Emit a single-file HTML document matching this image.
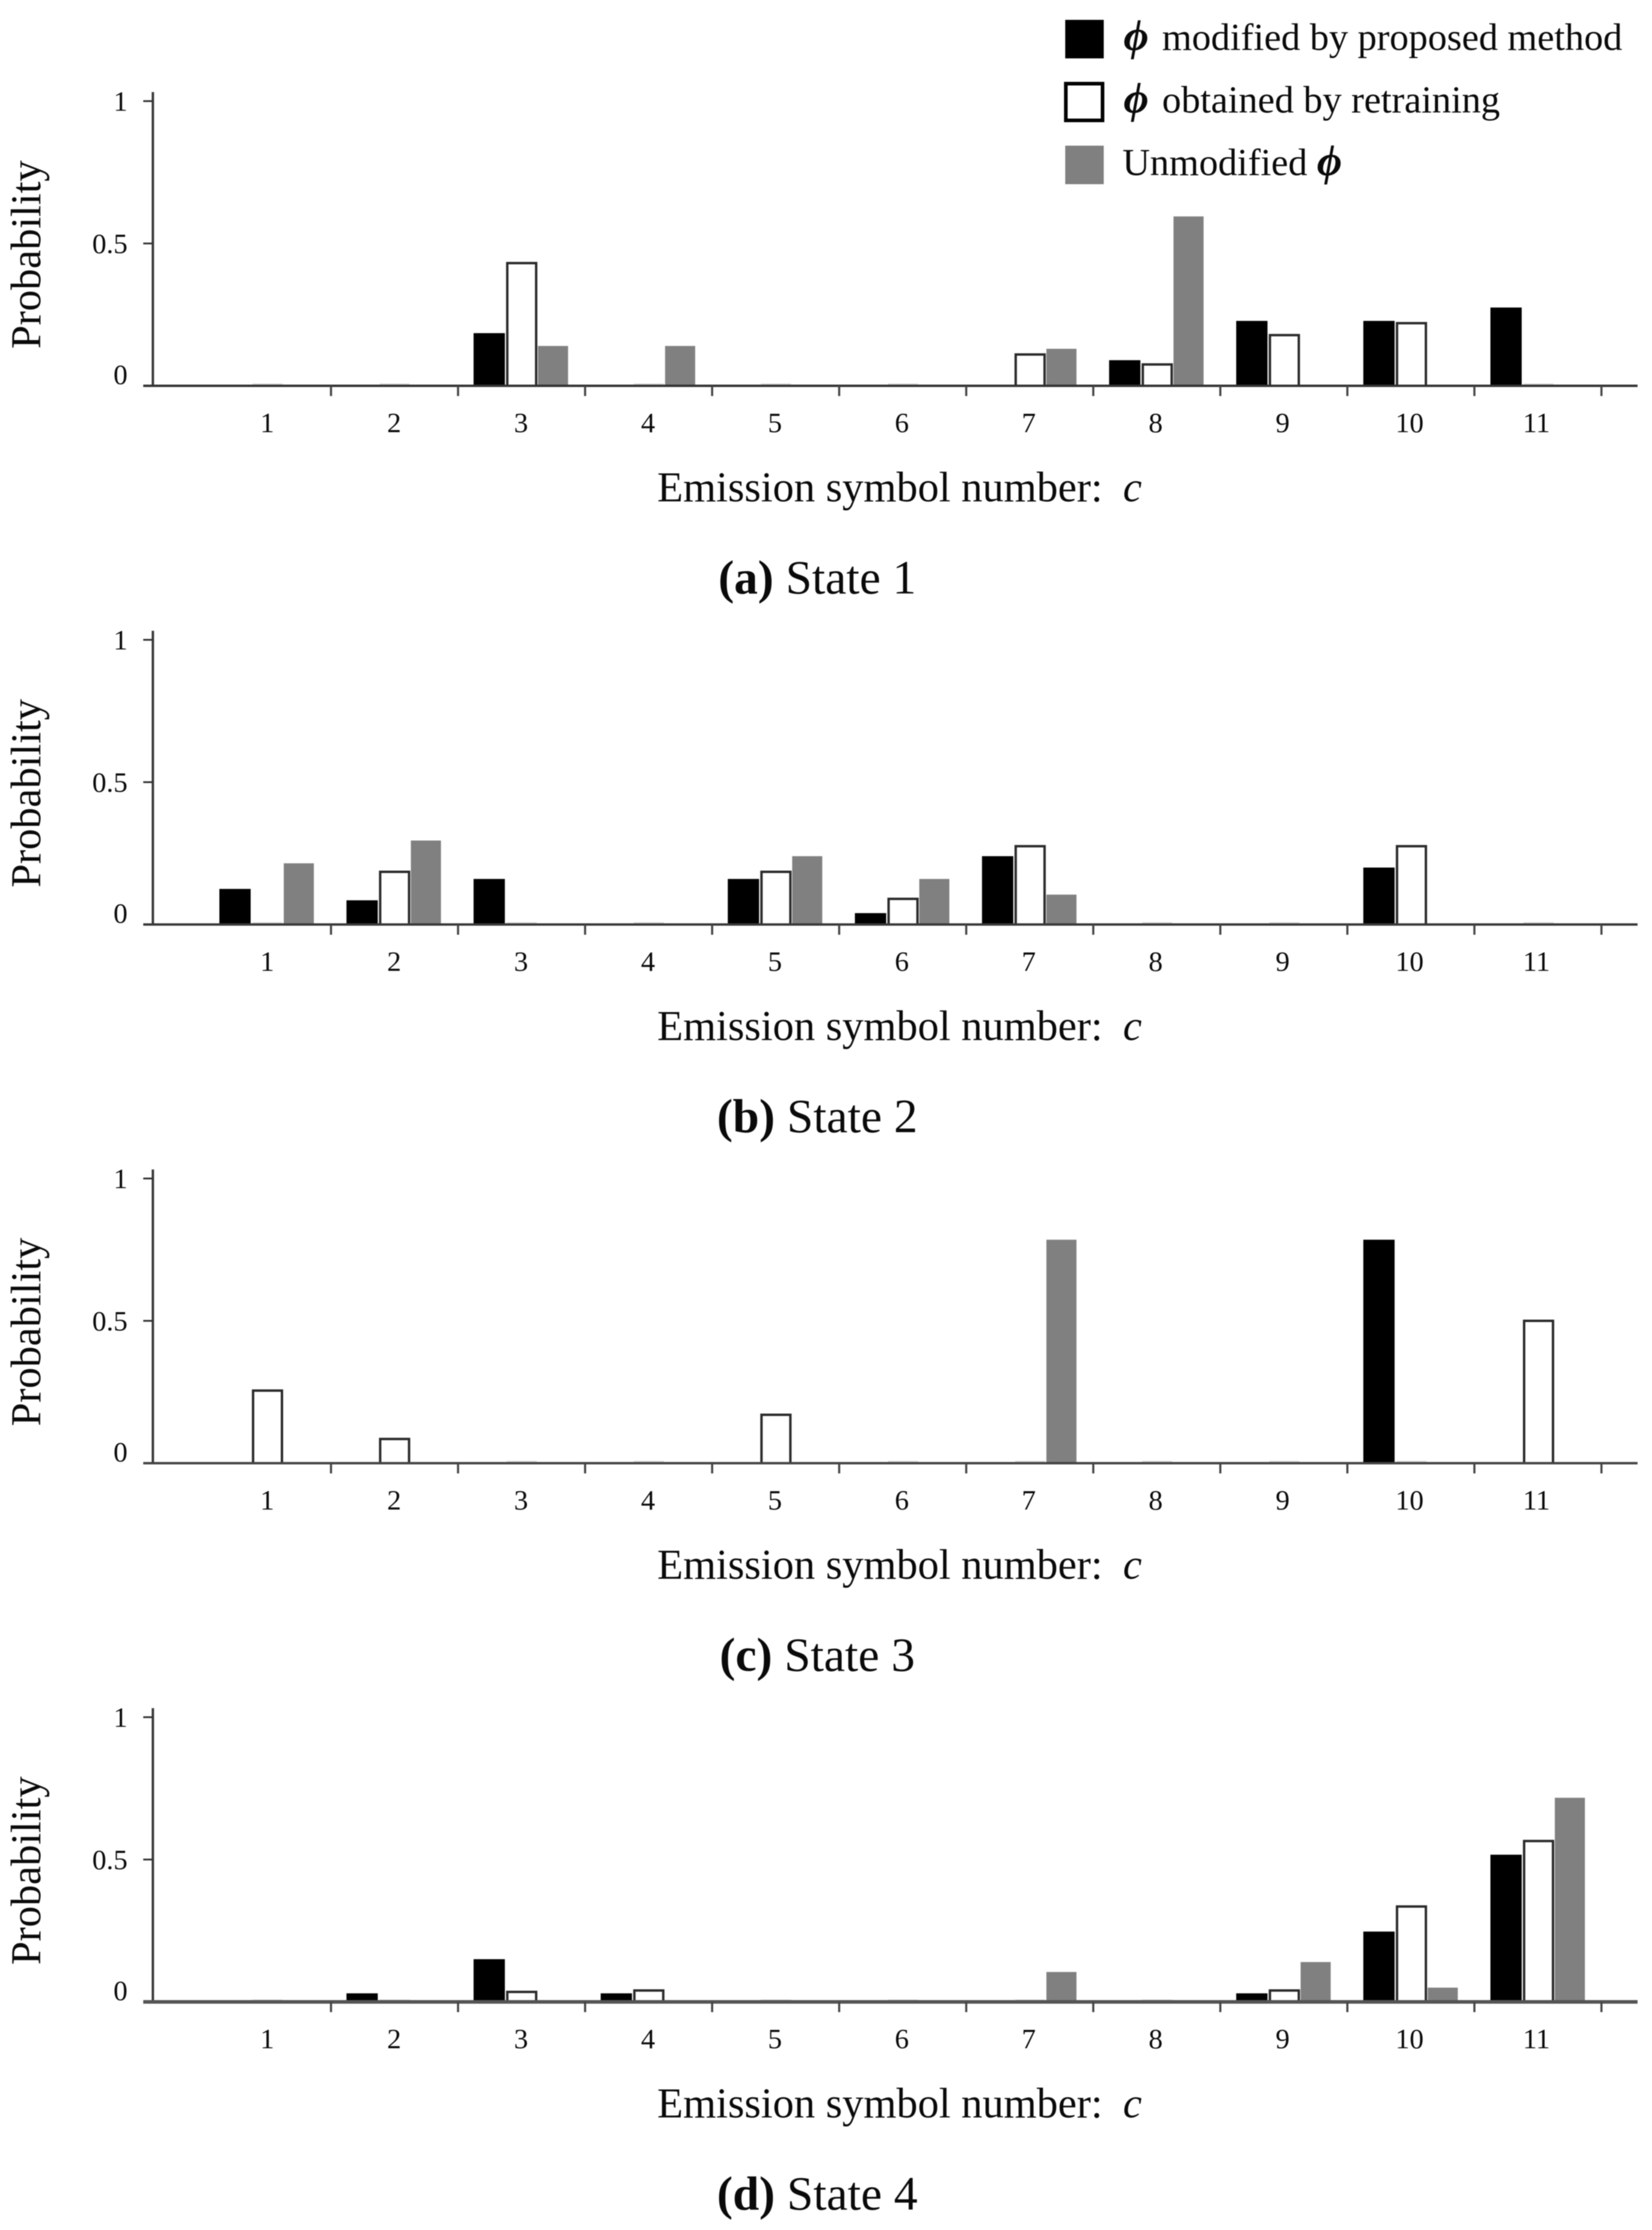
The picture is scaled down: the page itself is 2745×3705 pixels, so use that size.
<!DOCTYPE html>
<html lang="en">
<head>
<meta charset="utf-8">
<title>Emission probabilities by state</title>
<style>
html,body{margin:0;padding:0;background:#fff}
svg{display:block;filter:blur(0.8px)}
text{font-family:"Liberation Serif","DejaVu Serif",serif;fill:#0a0a0a}
.axt{font-size:70.5px}
.cap{font-size:79px}
.leg{font-size:63.6px}
.tick{font-size:47px}
.phi{font-weight:bold;font-style:italic;font-size:72px}
</style>
</head>
<body>
<svg id="chart" xmlns="http://www.w3.org/2000/svg" width="2745" height="3705" viewBox="0 0 2745 3705">
  <rect width="2745" height="3705" fill="#fff"/>

  <g id="panel-a">
    <text class="axt" transform="translate(67,423) rotate(-90)" text-anchor="middle">Probability</text>
    <text class="axt" x="1092" y="833">Emission symbol number:</text>
    <text class="axt" x="1866" y="833" font-style="italic">c</text>
    <text class="cap" x="1358" y="986" text-anchor="middle"><tspan font-weight="bold">(a)</tspan> State 1</text>
  </g>
  <g id="panel-b" transform="translate(0,895)">
    <text class="axt" transform="translate(67,423) rotate(-90)" text-anchor="middle">Probability</text>
    <text class="axt" x="1092" y="833">Emission symbol number:</text>
    <text class="axt" x="1866" y="833" font-style="italic">c</text>
    <text class="cap" x="1358" y="986" text-anchor="middle"><tspan font-weight="bold">(b)</tspan> State 2</text>
  </g>
  <g id="panel-c" transform="translate(0,1790)">
    <text class="axt" transform="translate(67,423) rotate(-90)" text-anchor="middle">Probability</text>
    <text class="axt" x="1092" y="833">Emission symbol number:</text>
    <text class="axt" x="1866" y="833" font-style="italic">c</text>
    <text class="cap" x="1358" y="986" text-anchor="middle"><tspan font-weight="bold">(c)</tspan> State 3</text>
  </g>
  <g id="panel-d" transform="translate(0,2685)">
    <text class="axt" transform="translate(67,423) rotate(-90)" text-anchor="middle">Probability</text>
    <text class="axt" x="1092" y="833">Emission symbol number:</text>
    <text class="axt" x="1866" y="833" font-style="italic">c</text>
    <text class="cap" x="1358" y="986" text-anchor="middle"><tspan font-weight="bold">(d)</tspan> State 4</text>
  </g>

  <g id="legend">
    <g>
      <rect x="1770" y="33" width="64" height="64" fill="#000"/>
      <text class="leg" x="1867" y="83"><tspan class="phi">ϕ</tspan><tspan x="1915"> modified by proposed method</tspan></text>
    </g>
    <g>
      <rect x="1771" y="139" width="61" height="61" fill="#fff" stroke="#000" stroke-width="6"/>
      <text class="leg" x="1867" y="187"><tspan class="phi">ϕ</tspan><tspan x="1915"> obtained by retraining</tspan></text>
    </g>
    <g>
      <rect x="1770" y="242" width="64" height="64" fill="#808080"/>
      <text class="leg" x="1865" y="291">Unmodified <tspan class="phi">ϕ</tspan></text>
    </g>
  </g>
</svg>
<script>
const categories = ["1","2","3","4","5","6","7","8","9","10","11"];
const yTickValues = [0, 0.5, 1];
const yTickLabels = ["0", "0.5", "1"];

const proposedA = [0,0,0.185,0,0,0,0,0.09,0.228,0.228,0.275];
const retrainA  = [0,0,0.431,0,0,0,0.11,0.075,0.178,0.22,0];
const unmodA    = [0,0,0.14,0.14,0,0,0.13,0.595,0,0,0];

const proposedB = [0.125,0.085,0.16,0,0.16,0.04,0.24,0,0,0.2,0];
const retrainB  = [0,0.185,0,0,0.185,0.09,0.275,0,0,0.275,0];
const unmodB    = [0.215,0.295,0,0,0.24,0.16,0.105,0,0,0,0];

const proposedC = [0,0,0,0,0,0,0,0,0,0.785,0];
const retrainC  = [0.255,0.085,0,0,0.17,0,0,0,0,0,0.5];
const unmodC    = [0,0,0,0,0,0,0.785,0,0,0,0];

const proposedD = [0,0.03,0.15,0.03,0,0,0,0,0.03,0.247,0.517];
const retrainD  = [0,0,0.035,0.04,0,0,0,0,0.04,0.335,0.565];
const unmodD    = [0,0,0,0,0,0,0.105,0,0.14,0.05,0.717];

const NS = "http://www.w3.org/2000/svg";
const OFFSET_LEFT = 54, OFFSET_RIGHT = 52, BAR_W = 50;
const BASE = 641, UNIT = 473;
function xScale(i){ return 444.5 + 211.2 * i; }
function labelX(i){ return 444 + 210.9 * i; }
function tickX(i){ return 550 + 211.1 * i; }
function yScale(v){ return BASE - UNIT * v; }

function mk(parent, tag, attrs){
  const e = document.createElementNS(NS, tag);
  for (const k in attrs) e.setAttribute(k, attrs[k]);
  parent.appendChild(e);
  return e;
}

function drawPanel(id, proposed, retrain, unmod, axisColor, axisWidth){
  const g = document.getElementById(id);

  // white (retraining) bars, including the faint stubs at zero
  retrain.forEach(function(v, i){
    const cx = xScale(i);
    const r = mk(g, "rect", {x: cx - BAR_W/2 + 1, y: v > 0 ? yScale(v) : BASE - 3, width: BAR_W - 2, height: v > 0 ? BASE - yScale(v) : 3,
      fill: "#fff", stroke: v > 0 ? "#2a2a2a" : "#dcdcdc", "stroke-width": v > 0 ? 4 : 2});
    
    
  });
  proposed.forEach(function(v, i){
    if (v <= 0) return;
    const r = mk(g, "rect", {x: xScale(i) - OFFSET_LEFT - 26, y: yScale(v), width: 52, height: BASE - yScale(v), fill: "#000"});
    
    
  });
  unmod.forEach(function(v, i){
    if (v <= 0) return;
    const r = mk(g, "rect", {x: xScale(i) + OFFSET_RIGHT - BAR_W/2, y: yScale(v), width: BAR_W, height: BASE - yScale(v), fill: "#808080"});
    
    
  });

  // axes
  const ya = mk(g, "line", {x1: 254, x2: 254, y1: 153, y2: BASE + 2, stroke: "#3a3a3a", "stroke-width": 4});
  
  
  const xa = mk(g, "line", {x1: 238, x2: 2721, y1: BASE, y2: BASE, stroke: axisColor, "stroke-width": axisWidth});
  
  

  // y ticks
  yTickValues.forEach(function(v, i){
    const y = yScale(v);
    if (v > 0) {
      const t = mk(g, "line", {x1: 238, x2: 254, y1: y, y2: y, stroke: "#333", "stroke-width": 3});
      
      
    }
    const lab = mk(g, "text", {class: "tick", x: 212, y: v > 0 ? y + 16 : y - 3, "text-anchor": "end"});
    lab.textContent = yTickLabels[i];
    
    
  });

  // x ticks and labels
  categories.forEach(function(c, i){
    const tx = tickX(i);
    const t = mk(g, "line", {x1: tx, x2: tx, y1: BASE, y2: BASE + 17, stroke: "#444", "stroke-width": 3.5});
    
    
    const lab = mk(g, "text", {class: "tick", x: labelX(i), y: BASE + 77, "text-anchor": "middle"});
    lab.textContent = c;
    
    
  });
}

drawPanel("panel-a", proposedA, retrainA, unmodA, "#333", 4);
drawPanel("panel-b", proposedB, retrainB, unmodB, "#3a3a3a", 4);
drawPanel("panel-c", proposedC, retrainC, unmodC, "#444", 4);
drawPanel("panel-d", proposedD, retrainD, unmodD, "#555", 6);
</script>
</body>
</html>
